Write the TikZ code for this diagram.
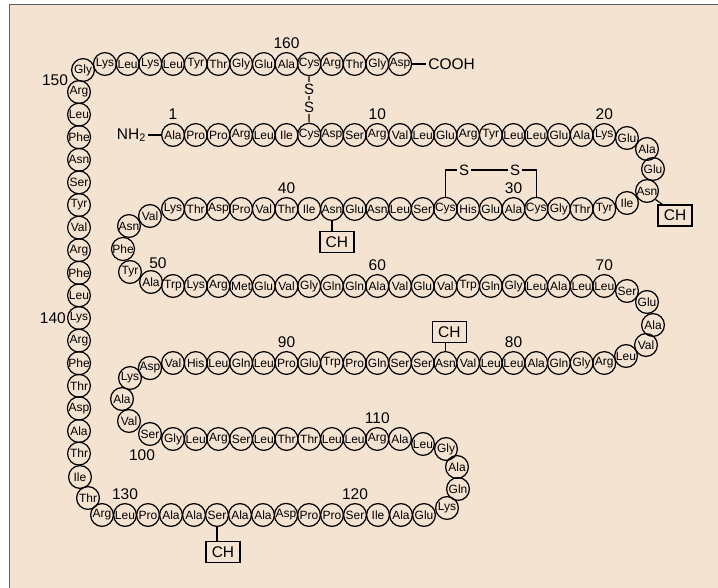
\documentclass[tikz,border=0pt]{standalone}
\usepackage{fontspec}
\setmainfont{Liberation Sans}
\usepackage{xcolor}
\usetikzlibrary{positioning}

\definecolor{paper}{RGB}{244,227,209}
\definecolor{rule}{RGB}{95,95,95}

\begin{document}
\begin{tikzpicture}[
    x=1pt, y=-1pt,
    res/.style={draw, circle, line width=1.2pt, minimum size=22.8pt, inner sep=0pt, font=\fontsize{12}{12}\selectfont},
    num/.style={inner sep=0pt, font=\fontsize{15.5}{16}\selectfont},
    sugar/.style={draw, rectangle, line width=1.2pt, minimum width=34pt, minimum height=21pt, inner sep=0pt, font=\fontsize{15.5}{16}\selectfont},
    sulf/.style={inner sep=1.5pt, font=\fontsize{15}{16}\selectfont},
    bond/.style={line width=1.2pt}
]
\useasboundingbox (0,0) rectangle (718,588);
\fill[paper] (9,4) rectangle (718,588);
\draw[rule, line width=1.5pt] (9.5,588) -- (9.5,4.5) -- (718,4.5);

% Chain, straight runs
\foreach \n [count=\i] in {Ala,Pro,Pro,Arg,Leu,Ile,Cys,Asp,Ser,Arg,Val,Leu,Glu,Arg,Tyr,Leu,Leu,Glu,Ala,Lys}
  \node (r\i) [res] at ({173+22.7*(\i-1)},135) {\n};
\foreach \n [count=\i from 26] in {Tyr,Thr,Gly,Cys,Ala,Glu,His,Cys,Ser,Leu,Asn,Glu,Asn,Ile,Thr,Val,Pro,Asp,Thr,Lys}
  \node (r\i) [res] at ({173+22.7*(45-\i)},209) {\n};
\foreach \n [count=\i from 51] in {Trp,Lys,Arg,Met,Glu,Val,Gly,Gln,Gln,Ala,Val,Glu,Val,Trp,Gln,Gly,Leu,Ala,Leu,Leu}
  \node (r\i) [res] at ({173+22.7*(\i-51)},286) {\n};
\foreach \n [count=\i from 76] in {Arg,Gly,Gln,Ala,Leu,Leu,Val,Asn,Ser,Ser,Gln,Pro,Trp,Glu,Pro,Leu,Gln,Leu,His,Val}
  \node (r\i) [res] at ({173+22.7*(95-\i)},363) {\n};
\foreach \n [count=\i from 101] in {Gly,Leu,Arg,Ser,Leu,Thr,Thr,Leu,Leu,Arg,Ala}
  \node (r\i) [res] at ({173+22.7*(\i-101)},439) {\n};
\foreach \n [count=\i from 117] in {Glu,Ala,Ile,Ser,Pro,Pro,Asp,Ala,Ala,Ser,Ala,Ala,Pro,Leu,Arg}
  \node (r\i) [res] at ({102+23*(131-\i)},515) {\n};
\foreach \n [count=\i from 134] in {Thr,Ala,Asp,Thr,Phe,Arg,Lys,Leu,Phe,Arg,Val,Tyr,Ser,Asn,Phe,Leu,Arg}
  \node (r\i) [res] at (79,{92+22.6*(150-\i)}) {\n};
\foreach \n [count=\i from 152] in {Lys,Leu,Lys,Leu,Tyr,Thr,Gly,Glu,Ala,Cys,Arg,Thr,Gly,Asp}
  \node (r\i) [res] at ({173+22.7*(\i-155)},64) {\n};

% Chain, turns
\foreach \k/\n/\x/\y in {21/Glu/627/138, 22/Ala/647/149, 23/Glu/653/169, 24/Asn/647/191, 25/Ile/627/203,
    46/Val/150/216, 47/Asn/129/226, 48/Phe/123/249, 49/Tyr/130/272, 50/Ala/151/282,
    71/Ser/627/291, 72/Glu/647/302, 73/Ala/653/325, 74/Val/646/345, 75/Leu/626/356,
    96/Asp/150/368, 97/Lys/130/378, 98/Ala/122/399, 99/Val/129/421, 100/Ser/150/434,
    112/Leu/423/444, 113/Gly/446/449, 114/Ala/457/467, 115/Gln/458/489, 116/Lys/447/508,
    132/Thr/88/498, 133/Ile/80/477, 151/Gly/83/70}
  \node (r\k) [res] at (\x,\y) {\n};

% Ends
\node (nh2) [left=13pt of r1, inner sep=2pt, font=\fontsize{15.5}{16}\selectfont] {NH\textsubscript{2}};
\node (cooh) [right=14pt of r165, num, inner sep=2pt] {COOH};
\draw[bond] (nh2) -- (r1);
\draw[bond] (r165) -- (cooh);

% Disulfide bridges
\node (s1) [sulf] at (309,89) {S};
\node (s2) [sulf, below=4pt of s1] {S};
\draw[bond] (r161) -- (s1) -- (s2) -- (r7);
\node (s3) [sulf] at (464,170) {S};
\node (s4) [sulf] at (515,170) {S};
\draw[bond] (r33) |- (s3);
\draw[bond] (s3) -- (s4);
\draw[bond] (s4) -| (r29);

% Carbohydrate sites
\node (ch1) [sugar, below right=5pt and 2pt of r24] {CH};
\node (ch2) [sugar, below=9.6pt of r38, xshift=5pt] {CH};
\node (ch3) [sugar, above=7.6pt of r83, xshift=4pt] {CH};
\node (ch4) [sugar, below=13.6pt of r126, xshift=6pt] {CH};
\draw[bond] (r24.south east) -- ([xshift=5pt]ch1.north west);
\draw[bond] (r38) -- (r38 |- ch2.north);
\draw[bond] (r83) -- (r83 |- ch3.south);
\draw[bond] (r126) -- (r126 |- ch4.north);

% Numbers
\foreach \k in {1,10,20,30,40,60,70,80,90,110,120,130,160}
  \node[num, above=3pt of r\k] {\k};
\node[num] at (158,263) {50};
\node[num] at (142,455) {100};
\node[num, left=1pt of r140] {140};
\node[num] at (55,80) {150};

\end{tikzpicture}
\end{document}
